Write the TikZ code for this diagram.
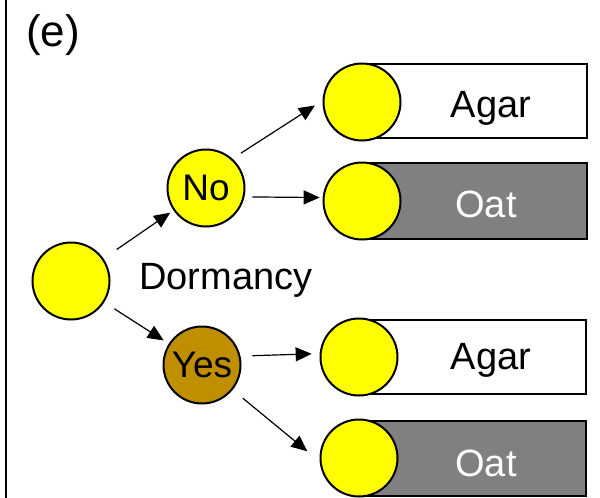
\documentclass[tikz,border=0pt]{standalone}
\usepackage{fontspec}
\setmainfont{Liberation Sans}
\usetikzlibrary{arrows.meta}
\definecolor{yel}{RGB}{255,255,0}
\definecolor{brn}{RGB}{191,143,0}
\definecolor{gry}{RGB}{128,128,128}
\begin{document}
\begin{tikzpicture}[x=1pt,y=-1pt,
  seed/.style={circle, draw=black, line width=2pt, fill=yel, minimum size=77pt, inner sep=0pt, font=\fontsize{37}{37}\selectfont},
  dish/.style={draw=black, line width=2pt},
  arr/.style={-{Triangle[length=16pt,width=14pt]}, line width=1.2pt},
  lbl/.style={font=\fontsize{38}{38}\selectfont, inner sep=0pt, anchor=base}]
\useasboundingbox (0,0) rectangle (600,498);
\fill[white] (0,0) rectangle (600,498);
\draw[line width=2.4pt] (6.2,0) -- (6.2,498);
\node[font=\fontsize{44}{44}\selectfont, inner sep=0pt, anchor=base west] (title) at (26,46) {(e)};
% dishes
\draw[dish, fill=white] (362,64) rectangle (587,138);
\draw[dish, fill=gry] (362,163) rectangle (587,239);
\draw[dish, fill=white] (359,320) rectangle (586,394);
\draw[dish, fill=gry] (359,421) rectangle (586,496);
\node[seed] (c1) at (362,102) {};
\node[seed] (c2) at (362,201) {};
\node[seed] (c3) at (359,357) {};
\node[seed] (c4) at (359,458) {};
\node[lbl] (t1) at (491,117) {Agar};
\node[lbl, text=white] (t2) at (486,217) {Oat};
\node[lbl] (t3) at (491,369) {Agar};
\node[lbl, text=white] (t4) at (486,476) {Oat};
% tree
\node[seed] (root) at (71,281) {};
\node[seed] (no) at (206,188) {No};
\node[seed, fill=brn] (yes) at (202,365) {Yes};
\node[lbl, anchor=base west] (dorm) at (139,289) {Dormancy};
\draw[arr, shorten <=16pt, shorten >=4pt] (root) -- (no);
\draw[arr, shorten <=12pt, shorten >=6pt] (root) -- (yes);
\draw[arr, shorten <=10pt, shorten >=9pt] (no.48) -- (c1.178);
\draw[arr, shorten <=8pt, shorten >=3pt] (no.-13) -- (c2.175);
\draw[arr, shorten <=12pt, shorten >=8pt] (yes.13) -- (c3.175);
\draw[arr, shorten <=13pt, shorten >=16pt] (yes.-39) -- (c4.185);
\end{tikzpicture}
\end{document}
